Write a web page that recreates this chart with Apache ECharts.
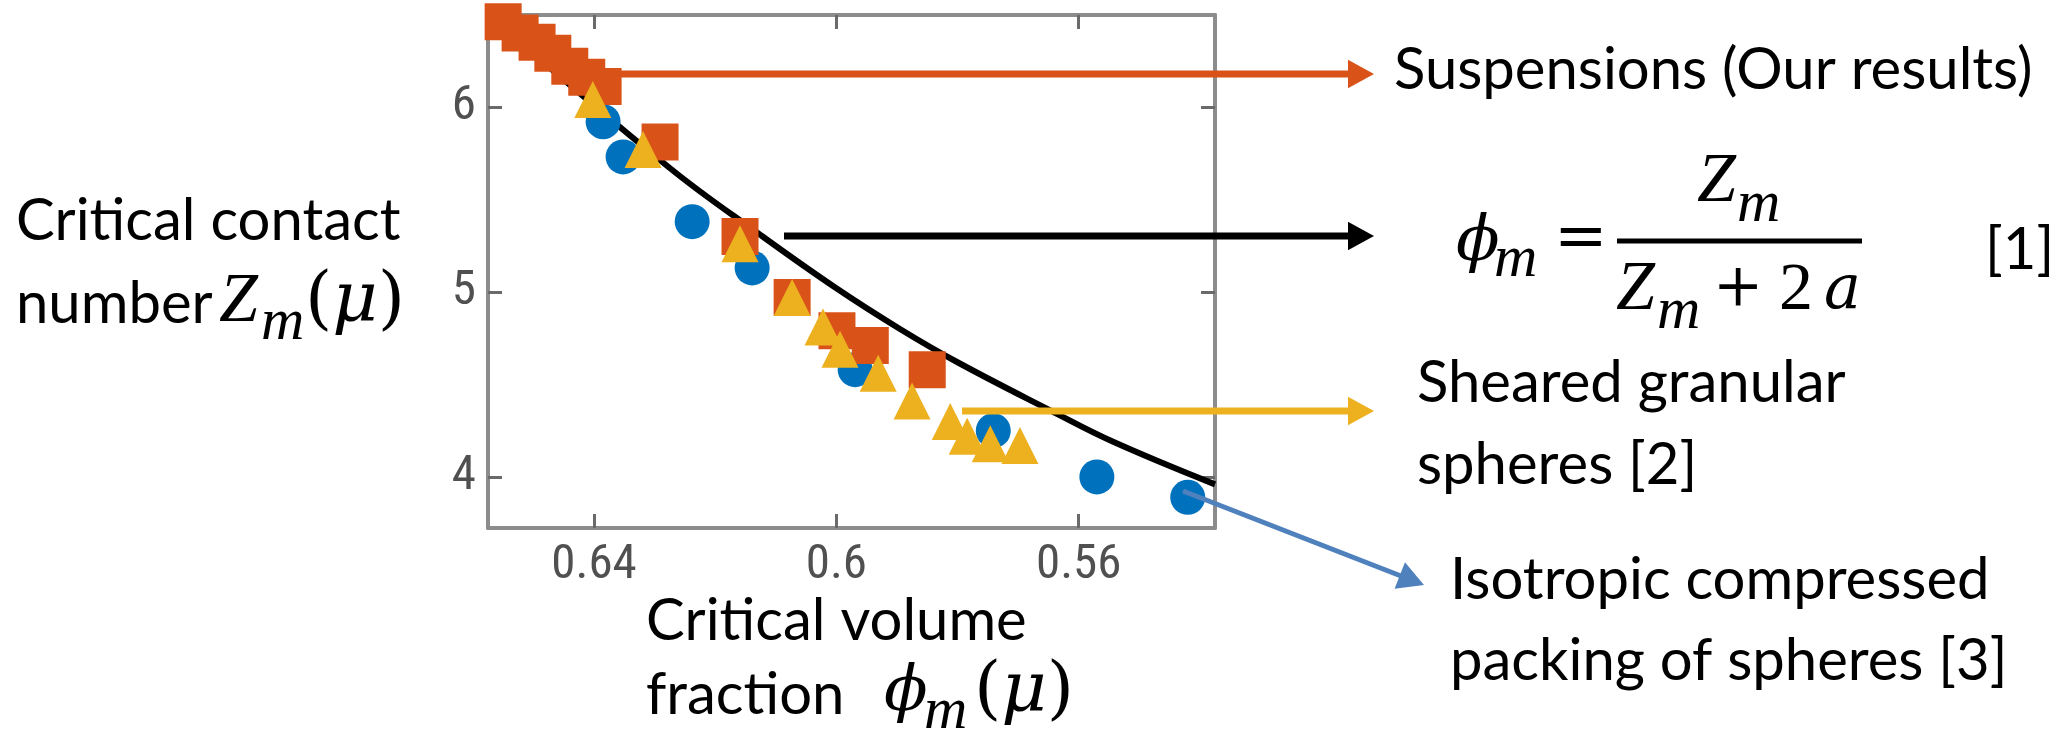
<!DOCTYPE html>
<html>
<head>
<meta charset="utf-8">
<script src="https://cdn.jsdelivr.net/npm/echarts@6/dist/echarts.min.js"></script>
<style>
html,body{margin:0;padding:0;background:#fff;}
#c{width:2067px;height:730px;}
</style>
</head>
<body>
<div id="c"></div>
<script>
// ---- data ----
const xTicks = [0.64, 0.6, 0.56];
const yTicks = [4, 5, 6];

// Suspensions (Our results) - orange squares
const suspPhi = [0.6550, 0.6522, 0.6494, 0.6468, 0.6440, 0.6412, 0.6385, 0.6291, 0.6159, 0.6073, 0.5999, 0.5944, 0.5850];
const suspZ   = [6.46, 6.40, 6.35, 6.29, 6.22, 6.16, 6.11, 5.81, 5.30, 4.97, 4.79, 4.71, 4.58];

// Sheared granular spheres [2] - yellow triangles
const granPhi = [0.6402, 0.6319, 0.6159, 0.6073, 0.6022, 0.5994, 0.5931, 0.5875, 0.5812, 0.5784, 0.5746, 0.5697];
const granZ   = [6.04, 5.77, 5.26, 4.97, 4.81, 4.69, 4.56, 4.41, 4.30, 4.22, 4.18, 4.17];

// Isotropic compressed packing of spheres [3] - blue circles
const isoPhi = [0.6385, 0.6352, 0.6238, 0.6139, 0.5969, 0.5741, 0.5570, 0.5420];
const isoZ   = [5.92, 5.73, 5.38, 5.13, 4.58, 4.25, 4.00, 3.89];

// phi_m = Z_m / (Z_m + 2a) curve
const curvePhi = [0.6575, 0.6275, 0.6126, 0.6000, 0.5895, 0.5800, 0.5647, 0.5543, 0.5375];
const curveZ   = [6.50, 5.67, 5.31, 5.02, 4.80, 4.62, 4.36, 4.19, 3.96];

const zip = (a, b) => a.map((v, i) => [v, b[i]]);

// ---- styling ----
const C_OR = '#D95319', C_YE = '#EDB120', C_BL = '#0072BD', C_ARB = '#4F81BD';
const SANS = 'Lato, "Open Sans", sans-serif';
const SERIF = '"Liberation Serif", "DejaVu Serif", serif';
const DSERIF = '"DejaVu Serif", "Liberation Serif", serif';
const TXT = 58;

function txt(x, y, s, opt) {
  opt = opt || {};
  return {
    type: 'text', x: x, y: y, z: 100,
    style: Object.assign({
      text: s, fill: '#000', fontSize: TXT, fontFamily: SANS,
      align: 'left', verticalAlign: 'middle', textAlign: 'left', textVerticalAlign: 'middle'
    }, opt)
  };
}
function mathI(x, y, s, size, fam) { return txt(x, y, s, {fontFamily: fam || SERIF, fontStyle: 'italic', fontSize: size}); }
function mathU(x, y, s, size, fam) { return txt(x, y, s, {fontFamily: fam || SERIF, fontSize: size}); }
function paren(x, y, size) {
  return txt(x, y, '({i|μ})', {fontFamily: DSERIF, fontSize: size,
    rich: {i: {fontFamily: DSERIF, fontStyle: 'italic', fontSize: size}}});
}
function arrow(x1, y1, x2, y2, color, w, head) {
  const dx = x2 - x1, dy = y2 - y1, L = Math.sqrt(dx * dx + dy * dy);
  const ux = dx / L, uy = dy / L, px = -uy, py = ux;
  const bx = x2 - ux * head, by = y2 - uy * head, hw = head * 0.55;
  return [
    {type: 'line', z: 90, shape: {x1: x1, y1: y1, x2: bx + ux * 2, y2: by + uy * 2},
     style: {stroke: color, lineWidth: w}},
    {type: 'polygon', z: 91, shape: {points: [[x2, y2], [bx + px * hw, by + py * hw], [bx - px * hw, by - py * hw]]},
     style: {fill: color}}
  ];
}

const graphics = [].concat(
  arrow(606, 74, 1374, 74, C_OR, 7, 26),
  arrow(784, 236, 1374, 236, '#000', 7, 26),
  arrow(962, 411, 1374, 411, C_YE, 7, 26),
  arrow(1183, 491, 1424, 585, C_ARB, 5, 26),
  [
    txt(1394, 70, 'Suspensions (Our results)'),
    txt(1417, 383, 'Sheared granular'),
    txt(1417, 465, 'spheres [2]'),
    txt(1450, 580, 'Isotropic compressed'),
    txt(1450, 661, 'packing of spheres [3]'),
    txt(16, 221, 'Critical contact'),
    txt(16, 304, 'number'),
    mathI(219, 303, 'Z', 70), mathI(261, 323, 'm', 60), paren(305, 303, 70),
    txt(646, 621, 'Critical volume'),
    txt(646, 695, 'fraction'),
    mathI(884, 693, 'ϕ', 64, DSERIF), mathI(924, 712, 'm', 60), paren(974, 693, 70),
    // equation
    mathI(1456, 243, 'ϕ', 64, DSERIF), mathI(1494, 260, 'm', 60),
    mathU(1554, 240, '=', 64, DSERIF),
    {type: 'line', z: 100, shape: {x1: 1617, y1: 241, x2: 1862, y2: 241}, style: {stroke: '#000', lineWidth: 5}},
    mathI(1697, 183, 'Z', 70), mathI(1737, 205, 'm', 60),
    mathI(1616, 291, 'Z', 70), mathI(1657, 312, 'm', 60),
    mathU(1713, 289, '+', 60, DSERIF), mathU(1779, 291, '2', 68), mathI(1824, 292, 'a', 62, DSERIF),
    txt(1985, 250, '[1]')
  ]
);

const axisCommon = {
  type: 'value', inverse: true, min: 0.5375, max: 0.6575,
  axisLine: {show: true, onZero: false, lineStyle: {color: '#8c8c8c', width: 4}},
  axisTick: {show: true, inside: true, length: 14, customValues: xTicks, lineStyle: {color: '#6a6a6a', width: 3}},
  splitLine: {show: false}
};
const yCommon = {
  type: 'value', min: 3.724, max: 6.497,
  axisLine: {show: true, onZero: false, lineStyle: {color: '#8c8c8c', width: 4}},
  axisTick: {show: true, inside: true, length: 14, customValues: yTicks, lineStyle: {color: '#6a6a6a', width: 3}},
  splitLine: {show: false}
};
const labelStyle = {fontFamily: '"Roboto Condensed", "DejaVu Sans Condensed", Roboto, sans-serif',
  fontSize: 49, fontWeight: 'normal', color: '#505050'};

const option = {
  backgroundColor: '#fff',
  animation: false,
  grid: {left: 488, top: 15, width: 727, height: 513, containLabel: false},
  xAxis: [
    Object.assign({}, axisCommon, {position: 'bottom',
      axisLabel: Object.assign({show: true, customValues: xTicks, margin: 13, formatter: v => String(v)}, labelStyle)}),
    Object.assign({}, axisCommon, {position: 'top', axisLabel: {show: false}})
  ],
  yAxis: [
    Object.assign({}, yCommon, {position: 'left',
      axisLabel: Object.assign({show: true, customValues: yTicks, margin: 12}, labelStyle)}),
    Object.assign({}, yCommon, {position: 'right', axisLabel: {show: false}})
  ],
  series: [
    {type: 'line', data: zip(curvePhi, curveZ), smooth: 0.4, symbol: 'none', z: 1,
     lineStyle: {color: '#000', width: 6}},
    {type: 'scatter', data: zip(isoPhi, isoZ), symbol: 'circle', symbolSize: 35, z: 2,
     itemStyle: {color: C_BL, opacity: 1}},
    {type: 'scatter', data: zip(suspPhi, suspZ), symbol: 'rect', symbolSize: 37, z: 3,
     itemStyle: {color: C_OR, opacity: 1}},
    {type: 'scatter', data: zip(granPhi, granZ), symbol: 'triangle', symbolSize: 37, z: 4,
     itemStyle: {color: C_YE, opacity: 1}}
  ],
  graphic: graphics
};

const chart = echarts.init(document.getElementById('c'), null, {renderer: 'canvas'});
chart.setOption(option);
</script>
</body>
</html>
